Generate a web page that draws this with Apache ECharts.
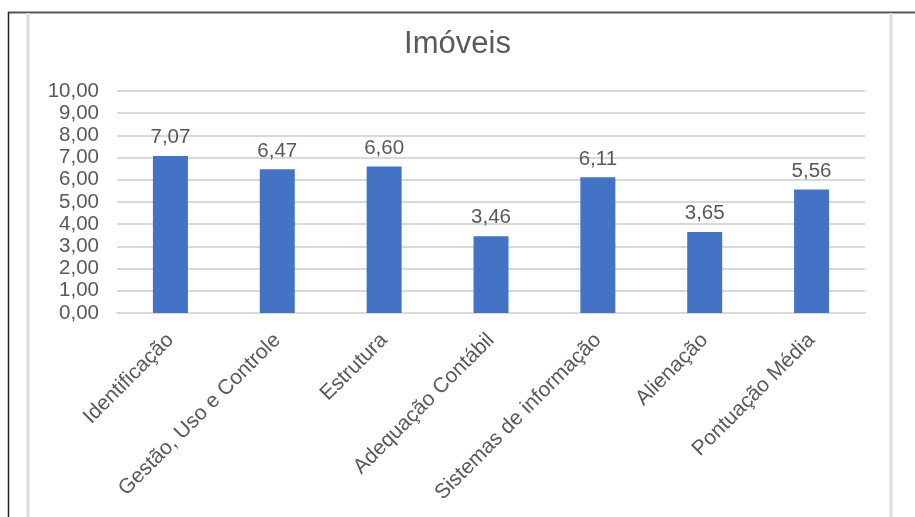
<!DOCTYPE html>
<html>
<head>
<meta charset="utf-8">
<script src="https://cdn.jsdelivr.net/npm/echarts@6/dist/echarts.min.js"></script>
<style>
html,body{margin:0;padding:0;background:#fff;}
#c{width:915px;height:517px;}
</style>
</head>
<body>
<div id="c"></div>
<script>
const categories = ['Identificação','Gestão, Uso e Controle','Estrutura','Adequação Contábil','Sistemas de informação','Alienação','Pontuação Média'];
const values = [7.07, 6.47, 6.60, 3.46, 6.11, 3.65, 5.56];
const chartTitle = 'Imóveis';

const fmt = v => v.toFixed(2).replace('.', ',');
const txt = '#595959';
const font = 'Liberation Sans, Arial, sans-serif';

const chart = echarts.init(document.getElementById('c'), null, {renderer:'canvas'});
chart.setOption({
  animation:false,
  backgroundColor:'#fff',
  title:{
    text: chartTitle, left:'center', top:24,
    textStyle:{color:txt, fontSize:31, fontWeight:'normal', fontFamily:font}
  },
  graphic:[
    {type:'line', shape:{x1:8,y1:12.5,x2:915,y2:12.5}, style:{stroke:'#555',lineWidth:2}, silent:true},
    {type:'line', shape:{x1:8.5,y1:12,x2:8.5,y2:517}, style:{stroke:'#222',lineWidth:1.5}, silent:true},
    {type:'line', shape:{x1:28,y1:13,x2:28,y2:517}, style:{stroke:'#dedede',lineWidth:3}, silent:true},
    {type:'line', shape:{x1:891,y1:13,x2:891,y2:517}, style:{stroke:'#dedede',lineWidth:3}, silent:true}
  ],
  grid:{left:117, right:50, top:91, bottom:204, containLabel:false},
  xAxis:{
    type:'category', data:categories,
    axisLine:{show:true, lineStyle:{color:'#d9d9d9', width:2}},
    axisTick:{show:false},
    axisLabel:{rotate:45, interval:0, margin:24, color:txt, fontSize:21, fontFamily:font}
  },
  yAxis:{
    type:'value', min:0, max:10, interval:1,
    axisLine:{show:false}, axisTick:{show:false},
    splitLine:{lineStyle:{color:'#d9d9d9', width:2}},
    axisLabel:{color:txt, fontSize:20.5, fontFamily:font, margin:18, formatter:v=>fmt(v)}
  },
  series:[{
    type:'bar', data:values, barWidth:35,
    itemStyle:{color:'#4472C4'},
    label:{show:true, position:'top', distance:8, color:txt, fontSize:20.5, fontFamily:font, formatter:p=>fmt(p.value)}
  }]
});
</script>
</body>
</html>
